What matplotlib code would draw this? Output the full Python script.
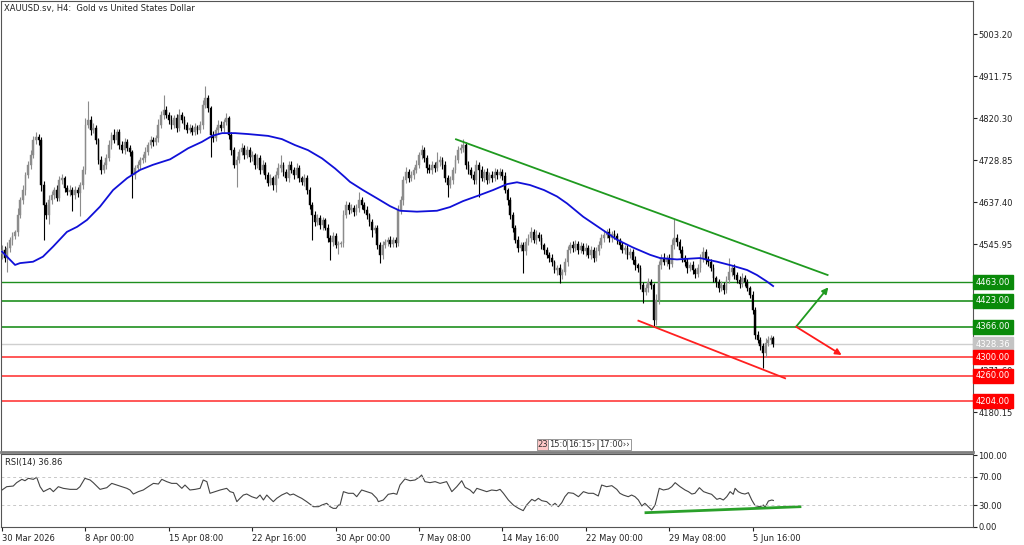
import matplotlib
matplotlib.use('Agg')
import matplotlib.pyplot as plt
import matplotlib.transforms as mtransforms

# H4 candles, one close per bar
first_open = 4525
closes = [4534, 4516, 4538, 4555, 4564, 4573, 4610, 4642, 4664, 4697,
          4719, 4740, 4773, 4780, 4773, 4675, 4632, 4610, 4642, 4653,
          4664, 4647, 4686, 4690, 4669, 4660, 4664, 4653, 4664, 4658,
          4675, 4708, 4806, 4817, 4795, 4799, 4773, 4730, 4708, 4719,
          4734, 4762, 4784, 4773, 4791, 4762, 4751, 4769, 4756, 4747,
          4697, 4712, 4719, 4730, 4734, 4747, 4762, 4773, 4769, 4777,
          4806, 4828, 4838, 4828, 4817, 4806, 4821, 4799, 4828, 4817,
          4806, 4795, 4799, 4791, 4801, 4795, 4806, 4849, 4865, 4843,
          4784, 4777, 4795, 4806, 4799, 4812, 4821, 4784, 4751, 4719,
          4730, 4747, 4756, 4740, 4751, 4736, 4740, 4719, 4734, 4708,
          4719, 4697, 4680, 4690, 4675, 4697, 4712, 4719, 4703, 4690,
          4719, 4708, 4697, 4712, 4690, 4682, 4690, 4664, 4632, 4610,
          4595, 4603, 4588, 4599, 4582, 4560, 4551, 4564, 4544, 4547,
          4549, 4610, 4632, 4621, 4625, 4616, 4625, 4642, 4632, 4621,
          4610, 4595, 4577, 4582, 4544, 4523, 4544, 4551, 4555, 4547,
          4555, 4549, 4621, 4642, 4686, 4703, 4690, 4697, 4708, 4719,
          4740, 4751, 4734, 4712, 4708, 4719, 4712, 4725, 4730, 4719,
          4690, 4675, 4686, 4708, 4730, 4751, 4756, 4762, 4719, 4708,
          4697, 4686, 4719, 4708, 4690, 4703, 4686, 4697, 4690, 4703,
          4697, 4703, 4695, 4664, 4642, 4610, 4582, 4555, 4538, 4544,
          4531, 4551, 4560, 4573, 4555, 4566, 4560, 4544, 4534, 4523,
          4516, 4507, 4490, 4494, 4479, 4486, 4507, 4534, 4544, 4538,
          4547, 4534, 4542, 4531, 4538, 4523, 4534, 4516, 4531, 4544,
          4560, 4566, 4573, 4560, 4568, 4564, 4555, 4544, 4534, 4538,
          4523, 4529, 4512, 4501, 4494, 4457, 4442, 4451, 4464, 4457,
          4381, 4425, 4501, 4516, 4507, 4516, 4503, 4544, 4560, 4551,
          4534, 4516, 4507, 4494, 4501, 4490, 4481, 4494, 4516, 4529,
          4512, 4507, 4494, 4473, 4464, 4451, 4457, 4447, 4468, 4486,
          4494, 4479, 4468, 4460, 4473, 4464, 4451, 4436, 4403, 4349,
          4338, 4325, 4309, 4331, 4338, 4342, 4328.36]

# upper / lower shadow length beyond the body, in $
wick_up = [10, 8, 12, 6, 9, 5, 14, 8, 10, 6,
           9, 12, 8, 10, 7, 6, 9, 5, 12, 8,
           6, 10, 8, 9, 5, 7, 11, 6, 8, 7,
           6, 9, 14, 41, 8, 10, 6, 5, 9, 7,
           8, 10, 6, 12, 7, 5, 9, 8, 6, 7,
           5, 6, 9, 7, 8, 10, 6, 9, 7, 8,
           12, 9, 33, 8, 6, 10, 7, 9, 12, 6,
           8, 6, 9, 7, 10, 5, 8, 12, 26, 6,
           5, 9, 7, 10, 8, 6, 11, 5, 7, 6,
           9, 7, 10, 6, 8, 7, 9, 5, 8, 6,
           10, 6, 7, 9, 5, 8, 10, 22, 6, 7,
           9, 8, 6, 10, 7, 5, 8, 6, 7, 5,
           8, 9, 6, 7, 5, 8, 6, 9, 7, 6,
           5, 10, 8, 7, 9, 6, 8, 18, 7, 6,
           8, 5, 7, 6, 5, 8, 9, 6, 7, 8,
           6, 7, 10, 9, 8, 12, 6, 9, 7, 10,
           8, 11, 7, 6, 9, 8, 7, 22, 9, 6,
           8, 6, 9, 7, 10, 8, 9, 13, 7, 8,
           6, 9, 10, 7, 8, 6, 9, 7, 8, 10,
           7, 9, 6, 8, 5, 7, 6, 5, 8, 7,
           6, 9, 8, 11, 7, 10, 6, 8, 5, 7,
           6, 8, 5, 7, 9, 6, 10, 8, 7, 9,
           8, 6, 9, 7, 10, 6, 8, 7, 9, 10,
           8, 10, 7, 9, 6, 8, 7, 5, 8, 6,
           7, 9, 6, 8, 5, 7, 6, 9, 8, 7,
           5, 12, 9, 8, 10, 7, 9, 14, 40, 8,
           6, 8, 7, 9, 6, 8, 5, 9, 8, 11,
           7, 9, 6, 8, 5, 7, 9, 6, 8, 30,
           7, 9, 6, 8, 10, 7, 6, 5, 8, 6,
           9, 7, 6, 10, 8, 7, 5]
wick_dn = [12, 9, 30, 8, 10, 7, 9, 6, 8, 10,
           7, 9, 6, 8, 10, 12, 76, 9, 20, 8,
           9, 7, 6, 8, 10, 7, 9, 35, 8, 9,
           50, 8, 9, 7, 10, 6, 8, 9, 10, 7,
           9, 7, 8, 6, 10, 8, 7, 9, 6, 8,
           51, 8, 7, 9, 6, 8, 7, 6, 9, 7,
           8, 6, 9, 7, 10, 8, 6, 9, 7, 8,
           9, 7, 6, 8, 7, 9, 6, 8, 7, 9,
           48, 8, 7, 9, 6, 8, 7, 9, 10, 8,
           48, 8, 7, 9, 6, 10, 8, 9, 7, 8,
           7, 9, 8, 6, 10, 15, 7, 8, 9, 6,
           8, 7, 9, 6, 8, 7, 9, 8, 10, 55,
           9, 7, 8, 10, 6, 9, 39, 8, 7, 20,
           8, 9, 7, 8, 6, 9, 7, 8, 10, 7,
           8, 9, 15, 7, 9, 18, 8, 7, 9, 6,
           8, 9, 7, 8, 10, 6, 9, 7, 8, 6,
           7, 9, 8, 10, 6, 8, 9, 7, 8, 9,
           8, 26, 7, 9, 6, 8, 7, 9, 10, 8,
           7, 9, 8, 58, 7, 9, 8, 6, 9, 7,
           8, 7, 9, 6, 10, 8, 9, 7, 8, 6,
           48, 9, 7, 8, 6, 9, 7, 8, 10, 7,
           9, 8, 7, 10, 17, 8, 7, 9, 6, 8,
           7, 9, 8, 6, 10, 7, 8, 9, 7, 8,
           6, 9, 7, 8, 10, 7, 9, 8, 6, 9,
           8, 7, 9, 10, 8, 9, 24, 7, 8, 9,
           13, 10, 8, 9, 7, 8, 10, 6, 9, 8,
           7, 9, 8, 10, 6, 9, 8, 7, 9, 8,
           9, 8, 7, 9, 10, 8, 7, 9, 8, 6,
           8, 9, 7, 10, 8, 9, 7, 8, 9, 10,
           8, 9, 33, 8, 7, 9, 6]

# moving average (blue) read at bar positions
ma_bar = [0, 5, 6.9, 11.9, 15.7, 19.6, 24.9, 28.8, 32.6, 37.6, 42.6, 48, 53, 57.9,
          64.5, 68.3, 71.4, 76.7, 80.6, 84.4, 89.4, 94.4, 102.1, 107.4, 112.4,
          117.4, 122.8, 127.8, 131.6, 133.5, 138.5, 143.9, 148.9, 152.7, 159.2,
          166.9, 171.9, 176.9, 182.3, 188.4, 193.8, 197.6, 202.6, 208, 213, 216.8,
          223, 229.5, 236, 242.1, 248.7, 252.5, 259, 267.8, 274.4, 280.5, 285.9,
          289.7, 293.5, 295.9]
ma_val = [4530, 4501, 4505, 4508, 4519, 4541, 4573, 4584, 4599, 4628, 4664, 4690,
          4708, 4719, 4731, 4744, 4755, 4769, 4782, 4788, 4788, 4786, 4782, 4775,
          4762, 4751, 4733, 4711, 4692, 4682, 4664, 4646, 4629, 4619, 4617, 4619,
          4627, 4640, 4651, 4664, 4677, 4681, 4675, 4664, 4650, 4635, 4606, 4581,
          4556, 4539, 4523, 4516, 4513, 4516, 4508, 4499, 4490, 4479, 4465, 4455]

# RSI(14)
rsi_bar = [0, 1.8, 4.3, 5.6, 7.6, 8.8, 10.1, 12, 13.3, 14.6, 15.9, 17.1, 18.4, 19.7,
           21.6, 23.5, 26.1, 28.7, 29.9, 31.8, 33.8, 35, 37.6, 40.2, 42.1, 44, 45.9,
           47.9, 49.1, 50.4, 52.3, 54.2, 56.1, 58.1, 60, 61.3, 63.2, 65.1, 67, 69,
           70.2, 72.1, 74.1, 76, 77.2, 78.6, 79.8, 81.7, 83.7, 86.2, 87.5, 88.8, 90.1,
           91.3, 92.6, 93.9, 95.8, 97.7, 99, 100.3, 101.6, 102.8, 104.1, 105.4, 107.3,
           109.3, 110.5, 111.8, 113.7, 115, 116.9, 119.5, 121.4, 122.7, 124.6, 125.9,
           127.1, 128.2, 129.1, 129.7, 131, 132.9, 134.8, 136.1, 138, 140, 141.9,
           143.8, 144.4, 146.3, 148.2, 150.2, 151.5, 152.7, 154.6, 156.6, 158.5,
           160.4, 161, 162.3, 164.2, 166.2, 168.1, 170.6, 172.6, 174.5, 176.4, 177.7,
           179.6, 180.9, 182.2, 184.1, 186, 187.9, 189.8, 191.1, 192.4, 194.3, 196.2,
           198.2, 200, 201.3, 203.3, 204.5, 205.8, 207.1, 209, 210.9, 212.2, 213.5,
           214.8, 216, 217.3, 219.2, 221.2, 223.1, 225, 226.9, 228.8, 230.1, 232,
           234, 235.9, 237.1, 238.4, 240.3, 241.6, 242.9, 244.2, 245.5, 246.7, 248,
           249.3, 250.6, 252.2, 253.8, 255.7, 257, 258.3, 260.2, 262.1, 263.4, 264.7,
           265.9, 267.6, 269.2, 271, 272.3, 274.3, 275.5, 276.8, 278.1, 279.4, 280.6,
           281.3, 282.5, 283.8, 285.1, 286.4, 287.7, 289, 290.9, 292.2, 292.8, 294.1,
           295.4, 296]
rsi_val = [51.4, 56.0, 56.9, 61.6, 66.2, 64.3, 67.6, 66.2, 69.0, 56.0, 49.1, 51.4,
           53.7, 49.1, 56.0, 53.7, 52.3, 52.3, 56.0, 67.6, 65.3, 61.6, 52.3, 54.6,
           60.6, 58.3, 56.0, 53.7, 51.4, 45.8, 49.1, 51.4, 56.0, 60.6, 59.7, 66.2,
           63.0, 60.6, 60.6, 53.7, 58.3, 51.4, 52.3, 53.7, 65.3, 63.0, 46.8, 49.1,
           51.4, 53.7, 49.1, 47.7, 35.2, 39.8, 44.4, 45.8, 42.1, 39.8, 44.4, 37.5,
           44.4, 39.8, 35.2, 39.8, 44.4, 47.7, 44.4, 45.8, 42.1, 39.8, 35.2, 28.2,
           28.2, 30.5, 32.9, 28.2, 25.9, 25.9, 30.5, 30.5, 49.1, 46.8, 46.8, 42.1,
           51.4, 49.1, 46.8, 39.8, 35.2, 37.5, 45.4, 46.8, 45.4, 58.3, 66.7, 64.3,
           65.3, 69.9, 72.2, 63.0, 61.6, 63.0, 60.6, 63.0, 49.1, 56.0, 64.3, 55.1,
           51.4, 46.8, 53.7, 51.4, 49.1, 51.4, 50.5, 52.3, 46.8, 37.5, 30.5, 25.9,
           22.7, 30.5, 38.4, 36.1, 39.8, 36.6, 35.2, 29.2, 32.9, 28.2, 33.8, 42.1,
           47.7, 46.8, 42.1, 49.1, 46.8, 46.8, 43.1, 58.3, 56.0, 57.4, 52.3, 46.8,
           44.4, 42.1, 44.4, 42.1, 37.5, 29.2, 32.9, 28.2, 23.6, 30.5, 53.7, 51.4,
           52.8, 56.0, 61.6, 56.0, 51.4, 49.1, 45.8, 46.8, 54.6, 49.1, 46.8, 45.4,
           38.4, 39.8, 37.5, 42.1, 49.1, 45.4, 53.7, 49.1, 46.8, 45.8, 47.7, 37.5,
           29.6, 28.2, 30.5, 27.3, 36.1, 37.5, 36.86]

# drawn objects
trend_hi = ([174.2, 316.8], [4774.6, 4479.1])
trend_lo = ([244.2, 300.5], [4379.6, 4254.2])
arrow_up = ([304.7, 317.1], [4366.5, 4452.3])
arrow_dn = ([304.7, 322.2], [4366.5, 4304.9])
rsi_trend = ([247.1, 306.2], [19.9, 28.2])
res_levels = [4463, 4423, 4366]
sup_levels = [4300, 4260, 4204]
last_price = 4328.36

price_ticks = [5003.20, 4911.75, 4820.30, 4728.85, 4637.40, 4545.95, 4454.50,
               4363.05, 4271.60, 4180.15]
hidden_ticks = [4363.05]  # sits completely under the 4366 label
date_pos = [0, 32, 64, 96, 128, 160, 192, 224, 256, 288]
date_labels = ['30 Mar 2026', '8 Apr 00:00', '15 Apr 08:00', '22 Apr 16:00',
               '30 Apr 00:00', '7 May 08:00', '14 May 16:00', '22 May 00:00',
               '29 May 08:00', '5 Jun 16:00']
event_pos = [205.6, 210.0, 217.2, 229.0]
event_txt = ['23', '15:0', '16:15\u203a', '17:00\u203a\u203a']

fs = 6
fig = plt.figure(figsize=(10.24, 5.45), dpi=100)
ax = fig.add_axes([1 / 1024, 93 / 545, 972 / 1024, 451 / 545])
ax2 = fig.add_axes([1 / 1024, 18 / 545, 972 / 1024, 73 / 545])

# candles
opens = [first_open] + closes[:-1]
for i in range(len(closes)):
    o, c = opens[i], closes[i]
    hi = max(o, c) + wick_up[i]
    lo = min(o, c) - wick_dn[i]
    col = '#000000' if c < o else '#8c8c8c'
    ax.vlines(i, lo, hi, color=col, lw=0.8, zorder=2)
    ax.bar(i, max(abs(c - o), 1.2), bottom=min(o, c), width=0.7,
           color=col, edgecolor=col, lw=0.3, zorder=3)

ax.plot(ma_bar, ma_val, color='#1010d8', lw=1.3, zorder=4)

for lv in res_levels:
    ax.axhline(lv, color='#1f8f1f' if lv == res_levels[0] else '#3fa03f',
               lw=1.0 if lv == res_levels[0] else 1.4, zorder=1)
for lv in sup_levels:
    ax.axhline(lv, color='#ff3b3b', lw=1.2, zorder=1)
ax.axhline(last_price, color='#cfcfcf', lw=1.0, zorder=1)

ax.plot(*trend_hi, color='#1f9a1f', lw=1.3, zorder=5)
ax.plot(*trend_lo, color='#ff2020', lw=1.3, zorder=5)
for arr, col in [(arrow_up, '#1f9a1f'), (arrow_dn, '#ff1a1a')]:
    ax.annotate('', xy=(arr[0][1], arr[1][1]), xytext=(arr[0][0], arr[1][0]),
                arrowprops=dict(arrowstyle='-|>', color=col, lw=1.3,
                                mutation_scale=9, shrinkA=0, shrinkB=0), zorder=5)

ax.set_xlim(-0.4, 372.6)
ax.set_ylim(4093.7, 5075.7)
ax.set_xticks([])
ax.yaxis.tick_right()
ax.set_yticks(price_ticks)
ax.set_yticklabels(['' if p in hidden_ticks else '%.2f' % p for p in price_ticks])
ax.tick_params(axis='y', labelsize=fs, length=3, width=0.8, pad=1,
               colors='#222222', direction='out')
for s in ax.spines.values():
    s.set_color('#555555')
    s.set_linewidth(0.8)
ax.spines['bottom'].set_color('#808080')
ax.spines['bottom'].set_linewidth(2)

# price labels on the right scale
tr = mtransforms.blended_transform_factory(ax.transAxes, ax.transData)
boxes = [(lv, '#0a8a0a') for lv in res_levels] + [(last_price, '#c4c4c4')] + \
        [(lv, '#ff0000') for lv in sup_levels]
for lv, col in boxes:
    ax.text(1.003, lv, '%.2f' % lv, transform=tr, ha='left', va='center',
            fontsize=fs, color='white', clip_on=False, zorder=10,
            bbox=dict(boxstyle='square,pad=0.3', fc=col, ec=col))

# calendar event markers
trx = mtransforms.blended_transform_factory(ax.transData, ax.transAxes)
for p, t in zip(event_pos, event_txt):
    ax.text(p, 0.017, t, transform=trx, ha='left', va='center', fontsize=fs,
            color='#333333', zorder=10,
            bbox=dict(boxstyle='square,pad=0.15',
                      fc='#ffc8c8' if t == '23' else 'white', ec='#888888', lw=0.6))

fig.text(4 / 1024, 1 - 8 / 545, 'XAUUSD.sv, H4:  Gold vs United States Dollar',
         fontsize=fs, color='#222222', va='center')

# RSI panel
ax2.plot(rsi_bar, rsi_val, color='#444444', lw=0.8)
ax2.plot(*rsi_trend, color='#2aa02a', lw=2)
for lv in [70, 30]:
    ax2.axhline(lv, color='#c8c8c8', lw=0.7, ls=(0, (3, 3)))
ax2.set_xlim(-0.4, 372.6)
ax2.set_ylim(0, 101.4)
ax2.yaxis.tick_right()
ax2.set_yticks([0, 30, 70, 100])
ax2.set_yticklabels(['0.00', '30.00', '70.00', '100.00'])
ax2.set_xticks(date_pos)
ax2.set_xticklabels(date_labels)
for lab in ax2.get_xticklabels():
    lab.set_ha('left')
ax2.tick_params(axis='both', labelsize=fs, length=3, width=0.8, pad=1,
                colors='#222222')
ax2.tick_params(axis='x', pad=2)
for s in ax2.spines.values():
    s.set_color('#555555')
    s.set_linewidth(0.8)
ax2.text(0.004, 0.88, 'RSI(14) 36.86', transform=ax2.transAxes, fontsize=fs,
         color='#222222', va='center')

fig.savefig('out.png', dpi=100)
